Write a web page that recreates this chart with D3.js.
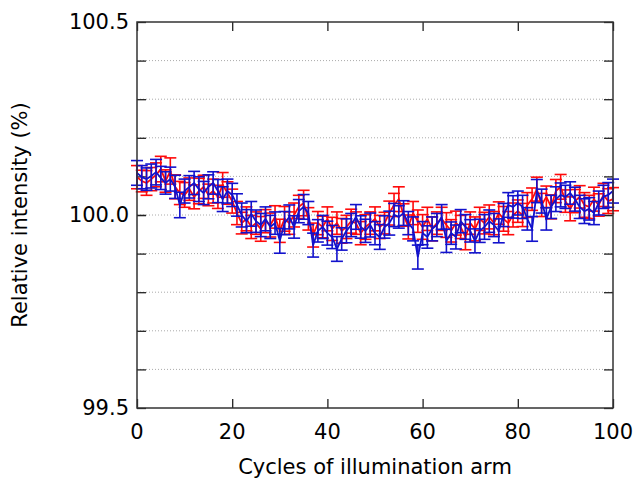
<!DOCTYPE html>
<html>
<head>
<meta charset="utf-8">
<script src="https://cdn.jsdelivr.net/npm/d3@7"></script>
<style>
  body { margin: 0; background: #fff; }
  text { font-family: "DejaVu Sans", Verdana, sans-serif; fill: #000; }
</style>
</head>
<body>
<div class="chart"></div>
<script>
// cycle numbers 0..100
var cycles = d3.range(0, 101);

// red series (relative intensity, %)
var redValues = [
  100.098, 100.088, 100.083, 100.093, 100.104, 100.119, 100.088, 100.114, 100.073, 100.057,
  100.052, 100.067, 100.047, 100.062, 100.073, 100.052, 100.062, 100.047, 100.078, 100.057,
  100.036, 100.005, 99.979, 99.990, 99.969, 99.979, 99.964, 99.984, 99.974, 99.995,
  99.959, 99.990, 99.979, 100.000, 100.021, 100.031, 99.990, 99.948, 99.979, 99.969,
  99.990, 99.964, 99.979, 99.959, 99.969, 99.984, 99.979, 99.953, 99.969, 99.979,
  99.990, 99.969, 99.979, 100.005, 100.026, 100.041, 100.000, 99.969, 100.005, 99.984,
  99.969, 99.990, 99.964, 99.979, 99.990, 99.974, 99.959, 99.979, 99.969, 99.943,
  99.979, 99.964, 99.990, 99.979, 99.995, 99.979, 100.005, 99.990, 99.979, 100.000,
  100.010, 100.000, 100.026, 100.041, 100.067, 100.026, 100.047, 100.021, 100.062, 100.073,
  100.036, 100.016, 100.036, 100.047, 100.026, 100.021, 100.041, 100.026, 100.052, 100.036,
  100.041
];
var redErrors = [
  0.030, 0.028, 0.032, 0.030, 0.031, 0.033, 0.029, 0.034, 0.031, 0.030,
  0.032, 0.029, 0.031, 0.033, 0.030, 0.028, 0.031, 0.030, 0.032, 0.029,
  0.031, 0.030, 0.028, 0.031, 0.030, 0.029, 0.032, 0.030, 0.031, 0.029,
  0.030, 0.032, 0.029, 0.031, 0.030, 0.033, 0.029, 0.031, 0.030, 0.028,
  0.031, 0.030, 0.029, 0.032, 0.030, 0.031, 0.029, 0.030, 0.032, 0.029,
  0.031, 0.030, 0.028, 0.031, 0.030, 0.032, 0.029, 0.031, 0.030, 0.029,
  0.032, 0.030, 0.031, 0.029, 0.030, 0.032, 0.029, 0.031, 0.030, 0.033,
  0.029, 0.031, 0.030, 0.028, 0.031, 0.030, 0.029, 0.032, 0.030, 0.031,
  0.029, 0.030, 0.032, 0.029, 0.031, 0.030, 0.028, 0.031, 0.030, 0.032,
  0.029, 0.031, 0.030, 0.029, 0.032, 0.030, 0.031, 0.029, 0.030, 0.032,
  0.030
];

// blue series (relative intensity, %)
var blueValues = [
  100.109, 100.098, 100.093, 100.101, 100.111, 100.096, 100.083, 100.093, 100.073, 100.026,
  100.062, 100.073, 100.083, 100.067, 100.057, 100.073, 100.083, 100.062, 100.041, 100.062,
  100.052, 100.026, 100.000, 99.984, 100.003, 99.984, 99.974, 99.990, 99.969, 99.979,
  99.933, 99.979, 99.995, 99.969, 100.010, 100.021, 100.005, 99.922, 99.959, 99.969,
  99.953, 99.943, 99.912, 99.938, 99.959, 99.974, 99.995, 99.969, 99.959, 99.974,
  99.953, 99.943, 99.969, 99.979, 100.000, 99.995, 100.005, 99.979, 99.964, 99.891,
  99.953, 99.943, 99.964, 99.974, 99.995, 99.933, 99.953, 99.943, 99.984, 99.969,
  99.959, 99.933, 99.959, 99.969, 99.984, 99.974, 99.959, 100.000, 100.026, 100.021,
  100.031, 100.021, 99.990, 99.964, 100.062, 100.036, 99.990, 100.021, 100.041, 100.052,
  100.047, 100.057, 100.041, 100.021, 100.010, 100.016, 100.005, 100.031, 100.047, 100.052,
  100.062
];
var blueErrors = [
  0.032, 0.030, 0.029, 0.031, 0.033, 0.030, 0.029, 0.031, 0.030, 0.033,
  0.031, 0.029, 0.030, 0.032, 0.030, 0.031, 0.029, 0.030, 0.032, 0.031,
  0.030, 0.029, 0.031, 0.030, 0.032, 0.029, 0.030, 0.031, 0.030, 0.029,
  0.032, 0.030, 0.031, 0.029, 0.030, 0.032, 0.030, 0.031, 0.029, 0.030,
  0.031, 0.030, 0.032, 0.029, 0.031, 0.030, 0.032, 0.029, 0.030, 0.031,
  0.030, 0.032, 0.029, 0.031, 0.030, 0.029, 0.032, 0.030, 0.031, 0.031,
  0.030, 0.029, 0.031, 0.030, 0.032, 0.030, 0.029, 0.031, 0.030, 0.032,
  0.029, 0.031, 0.030, 0.032, 0.029, 0.030, 0.031, 0.030, 0.032, 0.029,
  0.031, 0.030, 0.029, 0.032, 0.030, 0.031, 0.029, 0.030, 0.032, 0.031,
  0.030, 0.029, 0.031, 0.030, 0.032, 0.029, 0.030, 0.031, 0.030, 0.032,
  0.031
];

var xTicks = [0, 20, 40, 60, 80, 100];
var yTickLabels = [99.5, 100.0, 100.5];
var yMinorTicks = [99.6, 99.7, 99.8, 99.9, 100.0, 100.1, 100.2, 100.3, 100.4];

var margin = {top: 22, right: 23, bottom: 74, left: 137},
    width = 636 - margin.left - margin.right,
    height = 482 - margin.top - margin.bottom;

var svg = d3.select('.chart').append('svg')
    .attr('width', 636)
    .attr('height', 482);

var g = svg.append('g')
    .attr('transform', 'translate(' + margin.left + ',' + margin.top + ')');

var x = d3.scaleLinear().domain([0, 100]).range([0, width]);
var y = d3.scaleLinear().domain([99.5, 100.5]).range([height, 0]);

// dotted gridlines
g.selectAll('.grid')
    .data(yMinorTicks)
    .enter().append('line')
    .attr('x1', 0).attr('x2', width)
    .attr('y1', function(d) { return y(d); })
    .attr('y2', function(d) { return y(d); })
    .attr('stroke', '#aaa')
    .attr('stroke-width', 1)
    .attr('stroke-dasharray', '1,2');

// axes with inward ticks
var axisLeft = d3.axisLeft(y).tickValues(yMinorTicks.concat(yTickLabels)).tickSize(-9).tickFormat('');
var axisRight = d3.axisRight(y).tickValues(yMinorTicks.concat(yTickLabels)).tickSize(-9).tickFormat('');
var axisBottom = d3.axisBottom(x).tickValues(xTicks).tickSize(-9).tickFormat('');
var axisTop = d3.axisTop(x).tickValues(xTicks).tickSize(-9).tickFormat('');

function cleanAxis(sel) {
  sel.select('.domain').remove();
  sel.selectAll('.tick line').attr('stroke', '#222').attr('stroke-width', 1.3);
}

g.append('g').call(axisLeft).call(cleanAxis);
g.append('g').attr('transform', 'translate(' + width + ',0)').call(axisRight).call(cleanAxis);
g.append('g').attr('transform', 'translate(0,' + height + ')').call(axisBottom).call(cleanAxis);
g.append('g').call(axisTop).call(cleanAxis);

// data series
function drawSeries(values, errors, color) {
  var pts = cycles.map(function(c, i) { return {c: c, v: values[i], e: errors[i]}; });
  var s = g.append('g');
  var capW = 6;
  var bars = s.selectAll('.eb').data(pts).enter().append('g');
  bars.append('line')
      .attr('x1', function(d) { return x(d.c); }).attr('x2', function(d) { return x(d.c); })
      .attr('y1', function(d) { return y(d.v - d.e); }).attr('y2', function(d) { return y(d.v + d.e); });
  bars.append('line')
      .attr('x1', function(d) { return x(d.c) - capW; }).attr('x2', function(d) { return x(d.c) + capW; })
      .attr('y1', function(d) { return y(d.v + d.e); }).attr('y2', function(d) { return y(d.v + d.e); });
  bars.append('line')
      .attr('x1', function(d) { return x(d.c) - capW; }).attr('x2', function(d) { return x(d.c) + capW; })
      .attr('y1', function(d) { return y(d.v - d.e); }).attr('y2', function(d) { return y(d.v - d.e); });
  bars.selectAll('line').attr('stroke', color).attr('stroke-width', 1.6);

  s.append('path')
      .datum(pts)
      .attr('fill', 'none')
      .attr('stroke', color)
      .attr('stroke-width', 1.8)
      .attr('d', d3.line().x(function(d) { return x(d.c); }).y(function(d) { return y(d.v); }));
}

drawSeries(redValues, redErrors, '#ff0a0a');
drawSeries(blueValues, blueErrors, '#1212cc');

// frame
g.append('rect')
    .attr('width', width).attr('height', height)
    .attr('fill', 'none').attr('stroke', '#333').attr('stroke-width', 1.5);

// tick labels
g.selectAll('.ylab')
    .data(yTickLabels)
    .enter().append('text')
    .attr('x', -8)
    .attr('y', function(d) { return y(d); })
    .attr('dy', '0.35em')
    .style('text-anchor', 'end')
    .style('font-size', '21px')
    .text(function(d) { return d3.format('.1f')(d); });

g.selectAll('.xlab')
    .data(xTicks)
    .enter().append('text')
    .attr('x', function(d) { return x(d); })
    .attr('y', height + 31)
    .style('text-anchor', 'middle')
    .style('font-size', '21px')
    .text(function(d) { return d; });

// axis titles
svg.append('text')
    .attr('x', margin.left + width / 2)
    .attr('y', 474)
    .style('text-anchor', 'middle')
    .style('font-size', '21px')
    .text('Cycles of illumination arm');

svg.append('text')
    .attr('transform', 'translate(27,' + (margin.top + height / 2) + ') rotate(-90)')
    .style('text-anchor', 'middle')
    .style('font-size', '21px')
    .text('Relative intensity (%)');
</script>
</body>
</html>
